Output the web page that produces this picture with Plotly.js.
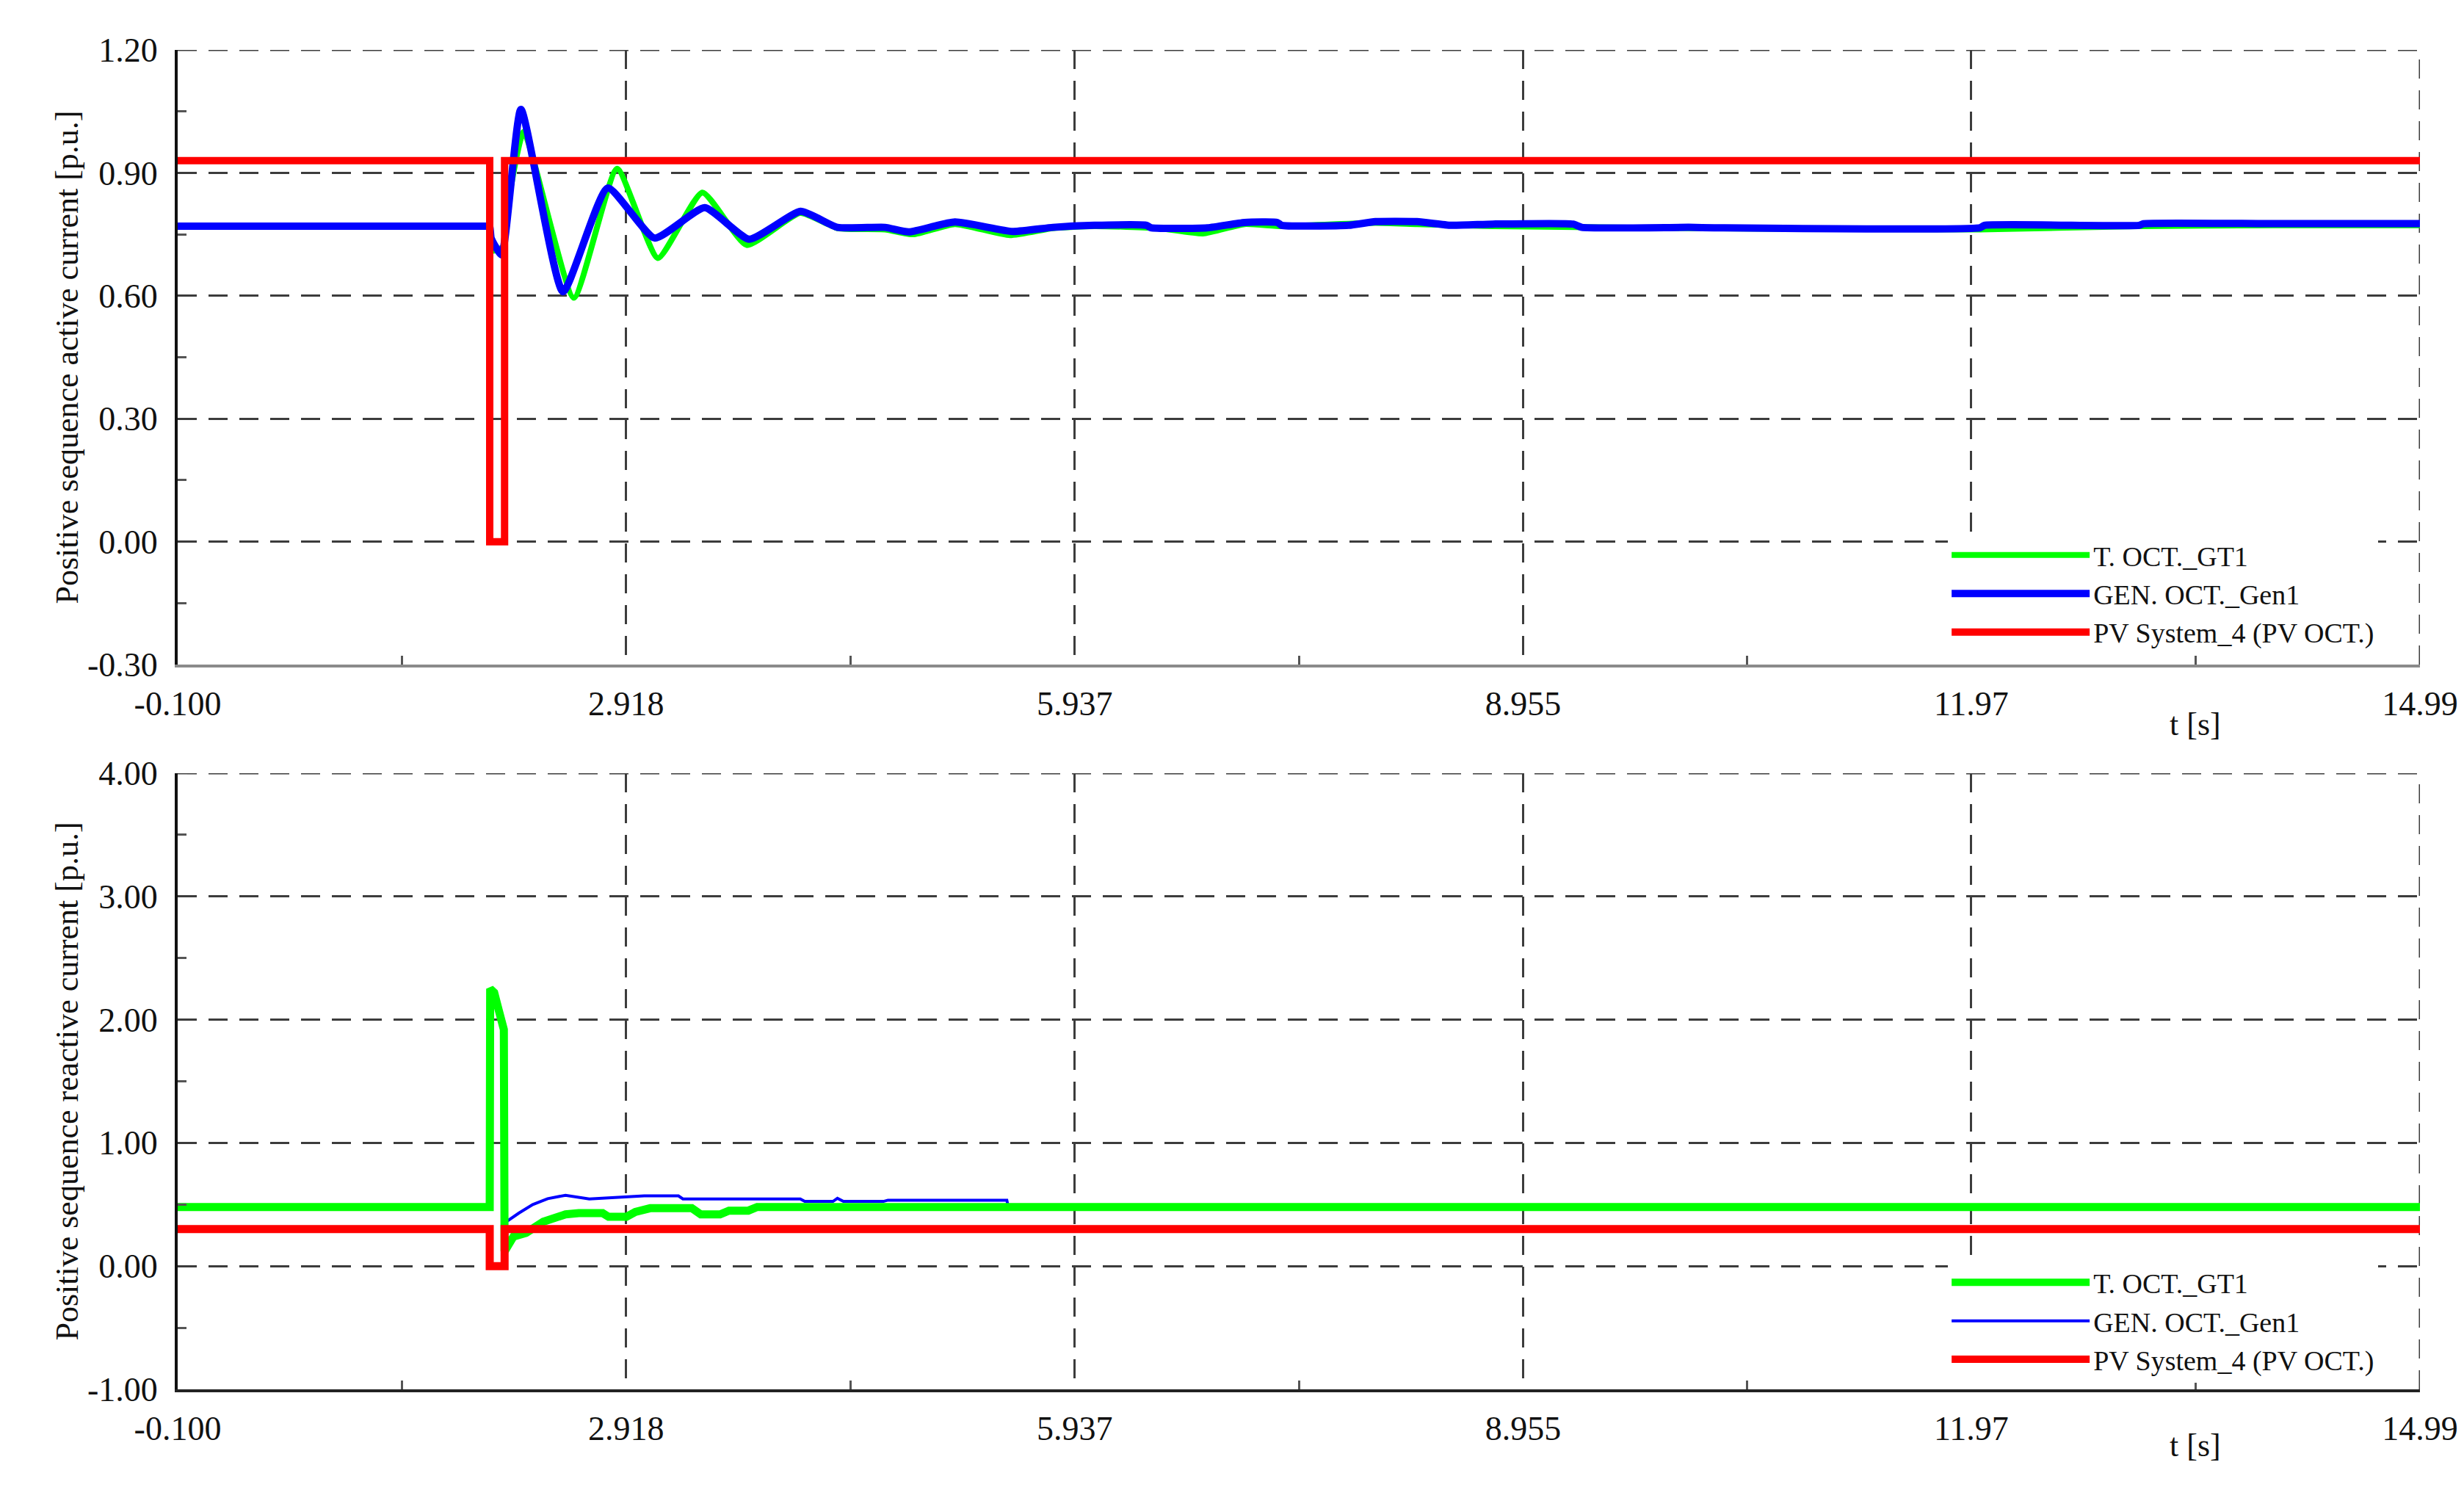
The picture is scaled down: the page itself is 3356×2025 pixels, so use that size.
<!DOCTYPE html>
<html>
<head>
<meta charset="utf-8">
<script src="https://cdn.plot.ly/plotly-3.0.1.min.js"></script>
<style>html,body{margin:0;padding:0;background:#fff}</style>
</head>
<body>
<div id="chart" style="width:3356px;height:2025px"></div>
<script>
// ---------- data ----------
const seriesNames = ['T. OCT._GT1', 'GEN. OCT._Gen1', 'PV System_4 (PV OCT.)'];
const seriesColors = ['#00ff00', '#0000ff', '#ff0000'];

const xRange = [-0.1, 14.99];
const xTickVals = [-0.1, 2.918, 5.937, 8.955, 11.97, 14.99];
const xTickText = ['-0.100', '2.918', '5.937', '8.955', '11.97', '14.99'];
const yTopRange = [-0.3, 1.2];
const yTopTicks = [-0.3, 0.0, 0.3, 0.6, 0.9, 1.2];
const yBotRange = [-1, 4];
const yBotTicks = [-1, 0, 1, 2, 3, 4];

// Positive sequence active current [p.u.]
const activeGT1_t = [-0.1, 1.0, 1.99, 2.0, 2.02, 2.09, 2.13, 2.229, 2.566, 2.857, 3.132, 3.431, 3.729, 4.09, 4.34, 4.66, 4.85, 5.13, 5.50, 5.79, 6.07, 6.50, 6.80, 7.08, 7.33, 7.96, 8.24, 8.75, 10.07, 12.03, 13.10, 14.0, 14.99];
const activeGT1_v = [0.77, 0.77, 0.77, 0.77, 0.71, 0.72, 0.84, 1.00, 0.595, 0.91, 0.692, 0.852, 0.724, 0.802, 0.765, 0.762, 0.75, 0.775, 0.748, 0.765, 0.77, 0.765, 0.752, 0.775, 0.77, 0.778, 0.775, 0.77, 0.765, 0.762, 0.77, 0.772, 0.772];

const activeGen1_t = [-0.1, 1.0, 1.99, 2.0, 2.01, 2.08, 2.21, 2.493, 2.794, 3.11, 3.447, 3.746, 4.092, 4.34, 4.66, 4.82, 5.13, 5.52, 5.79, 6.07, 6.42, 6.45, 6.83, 7.08, 7.30, 7.33, 7.78, 7.96, 8.24, 8.47, 8.75, 9.29, 9.35, 10.07, 10.24, 12.03, 12.06, 13.10, 13.13, 14.0, 14.99];
const activeGen1_v = [0.77, 0.77, 0.77, 0.77, 0.74, 0.70, 1.055, 0.61, 0.863, 0.741, 0.815, 0.738, 0.806, 0.767, 0.767, 0.756, 0.78, 0.757, 0.767, 0.772, 0.772, 0.766, 0.766, 0.779, 0.779, 0.772, 0.772, 0.781, 0.781, 0.772, 0.775, 0.775, 0.767, 0.767, 0.766, 0.766, 0.772, 0.772, 0.776, 0.776, 0.776];

const activePV_t = [-0.1, 2.0, 2.0, 2.1, 2.1, 14.99];
const activePV_v = [0.93, 0.93, 0.0, 0.0, 0.93, 0.93];

// Positive sequence reactive current [p.u.]
const reactiveGT1_t = [-0.1, 2.0, 2.003, 2.03, 2.06, 2.095, 2.10, 2.13, 2.16, 2.245, 2.36, 2.51, 2.60, 2.76, 2.80, 2.92, 2.98, 3.08, 3.36, 3.42, 3.55, 3.61, 3.74, 3.80, 14.99];
const reactiveGT1_v = [0.48, 0.48, 2.25, 2.22, 2.08, 1.92, 0.12, 0.17, 0.24, 0.27, 0.36, 0.42, 0.43, 0.43, 0.40, 0.40, 0.44, 0.47, 0.47, 0.42, 0.42, 0.45, 0.45, 0.48, 0.48];

const reactiveGen1_t = [-0.1, 2.0, null, 2.10, 2.196, 2.29, 2.39, 2.51, 2.67, 3.04, 3.27, 3.30, 4.09, 4.12, 4.31, 4.34, 4.38, 4.65, 4.68, 5.48, 5.49, 14.99];
const reactiveGen1_v = [0.48, 0.48, null, 0.35, 0.43, 0.50, 0.547, 0.575, 0.545, 0.57, 0.57, 0.545, 0.545, 0.525, 0.525, 0.55, 0.525, 0.525, 0.535, 0.535, 0.48, 0.48];

const reactivePV_t = [-0.1, 2.0, 2.0, 2.1, 2.1, 14.99];
const reactivePV_v = [0.30, 0.30, 0.0, 0.0, 0.30, 0.30];

const yTitleTop = 'Positive sequence active current [p.u.]';
const yTitleBot = 'Positive sequence reactive current [p.u.]';
const xTitle = 't [s]';

// ---------- helpers ----------
const midpoints = a => a.slice(1).map((v, i) => (a[i] + v) / 2);
const FONT = 'Liberation Serif, Times New Roman, serif';
const GRID = {color: '#3c3c3c', width: 3, dash: '26px,16px'};

function tr(x, y, idx, xa, ya, leg, width, rank, shape) {
  return {
    type: 'scatter', mode: 'lines', x: x, y: y,
    name: seriesNames[idx], xaxis: xa, yaxis: ya, legend: leg,
    legendrank: rank, connectgaps: false,
    line: Object.assign({color: seriesColors[idx], width: width}, shape || {})
  };
}
const smooth = {shape: 'spline', smoothing: 0.5};

const data = [
  tr(activeGT1_t, activeGT1_v, 0, 'x', 'y', 'legend', 8, 1, smooth),
  tr(activeGen1_t, activeGen1_v, 1, 'x', 'y', 'legend', 10, 2, smooth),
  tr(activePV_t, activePV_v, 2, 'x', 'y', 'legend', 10, 3),
  tr(reactiveGen1_t, reactiveGen1_v, 1, 'x2', 'y2', 'legend2', 4, 2),
  tr(reactiveGT1_t, reactiveGT1_v, 0, 'x2', 'y2', 'legend2', 11, 1),
  tr(reactivePV_t, reactivePV_v, 2, 'x2', 'y2', 'legend2', 11, 3)
];

const gridCommon = {
  showgrid: true, gridcolor: GRID.color, gridwidth: GRID.width, griddash: GRID.dash,
  zeroline: false, showline: true, ticks: '',
  tickfont: {family: FONT, size: 46, color: '#111'}
};

function xAxis(anchor, lineColor) {
  return Object.assign({}, gridCommon, {
    anchor: anchor, range: xRange, tickmode: 'array',
    tickvals: xTickVals, ticktext: xTickText,
    linecolor: lineColor, linewidth: 4, ticklabelstandoff: 10,
    minor: {tickmode: 'array', tickvals: midpoints(xTickVals), ticks: 'inside',
            ticklen: 12, tickwidth: 3, tickcolor: '#555', showgrid: false}
  });
}
function yAxis(anchor, domain, range, ticks, title) {
  return Object.assign({}, gridCommon, {
    anchor: anchor, domain: domain, range: range, tickmode: 'array',
    tickvals: ticks, ticktext: ticks.map(v => v.toFixed(2)),
    linecolor: '#111', linewidth: 4, ticklabelstandoff: 14,
    minor: {tickmode: 'array', tickvals: midpoints(ticks), ticks: 'inside',
            ticklen: 12, tickwidth: 3, tickcolor: '#555', showgrid: false},
    title: {text: title, font: {family: FONT, size: 44, color: '#111'}, standoff: 0}
  });
}

// dashed grid lines on the top and right borders of each panel
function borderGrid(xr, yr, yRange) {
  return [
    {type: 'line', xref: xr, yref: yr, x0: xRange[0], x1: xRange[1], y0: yRange[1], y1: yRange[1], line: GRID, layer: 'below'},
    {type: 'line', xref: xr, yref: yr, x0: xRange[1], x1: xRange[1], y0: yRange[0], y1: yRange[1], line: GRID, layer: 'below'}
  ];
}

const legendCommon = {
  xanchor: 'left', yanchor: 'top', bgcolor: '#ffffff', borderwidth: 0,
  font: {family: FONT, size: 38, color: '#111'}, itemwidth: 188,
  traceorder: 'normal', tracegroupgap: 0
};

const layout = {
  width: 3356, height: 2025,
  margin: {l: 242, r: 60, t: 68, b: 133},
  paper_bgcolor: '#ffffff', plot_bgcolor: '#ffffff',
  showlegend: true,
  xaxis: xAxis('y', '#8a8a8a'),
  yaxis: yAxis('x', [0.5411, 1], yTopRange, yTopTicks, yTitleTop),
  xaxis2: xAxis('y2', '#222'),
  yaxis2: yAxis('x2', [0, 0.46], yBotRange, yBotTicks, yTitleBot),
  legend: Object.assign({}, legendCommon, {x: 0.7895, y: 0.64}),
  legend2: Object.assign({}, legendCommon, {x: 0.7895, y: 0.097}),
  shapes: borderGrid('x', 'y', yTopRange).concat(borderGrid('x2', 'y2', yBotRange)),
  annotations: [
    {text: xTitle, xref: 'x', yref: 'paper', x: 13.48, y: 0.4962, showarrow: false,
     xanchor: 'center', yanchor: 'middle', font: {family: FONT, size: 44, color: '#111'}},
    {text: xTitle, xref: 'x2', yref: 'paper', x: 13.48, y: -0.0422, showarrow: false,
     xanchor: 'center', yanchor: 'middle', font: {family: FONT, size: 44, color: '#111'}}
  ]
};

Plotly.newPlot('chart', data, layout, {displayModeBar: false, staticPlot: true});
</script>
</body>
</html>
